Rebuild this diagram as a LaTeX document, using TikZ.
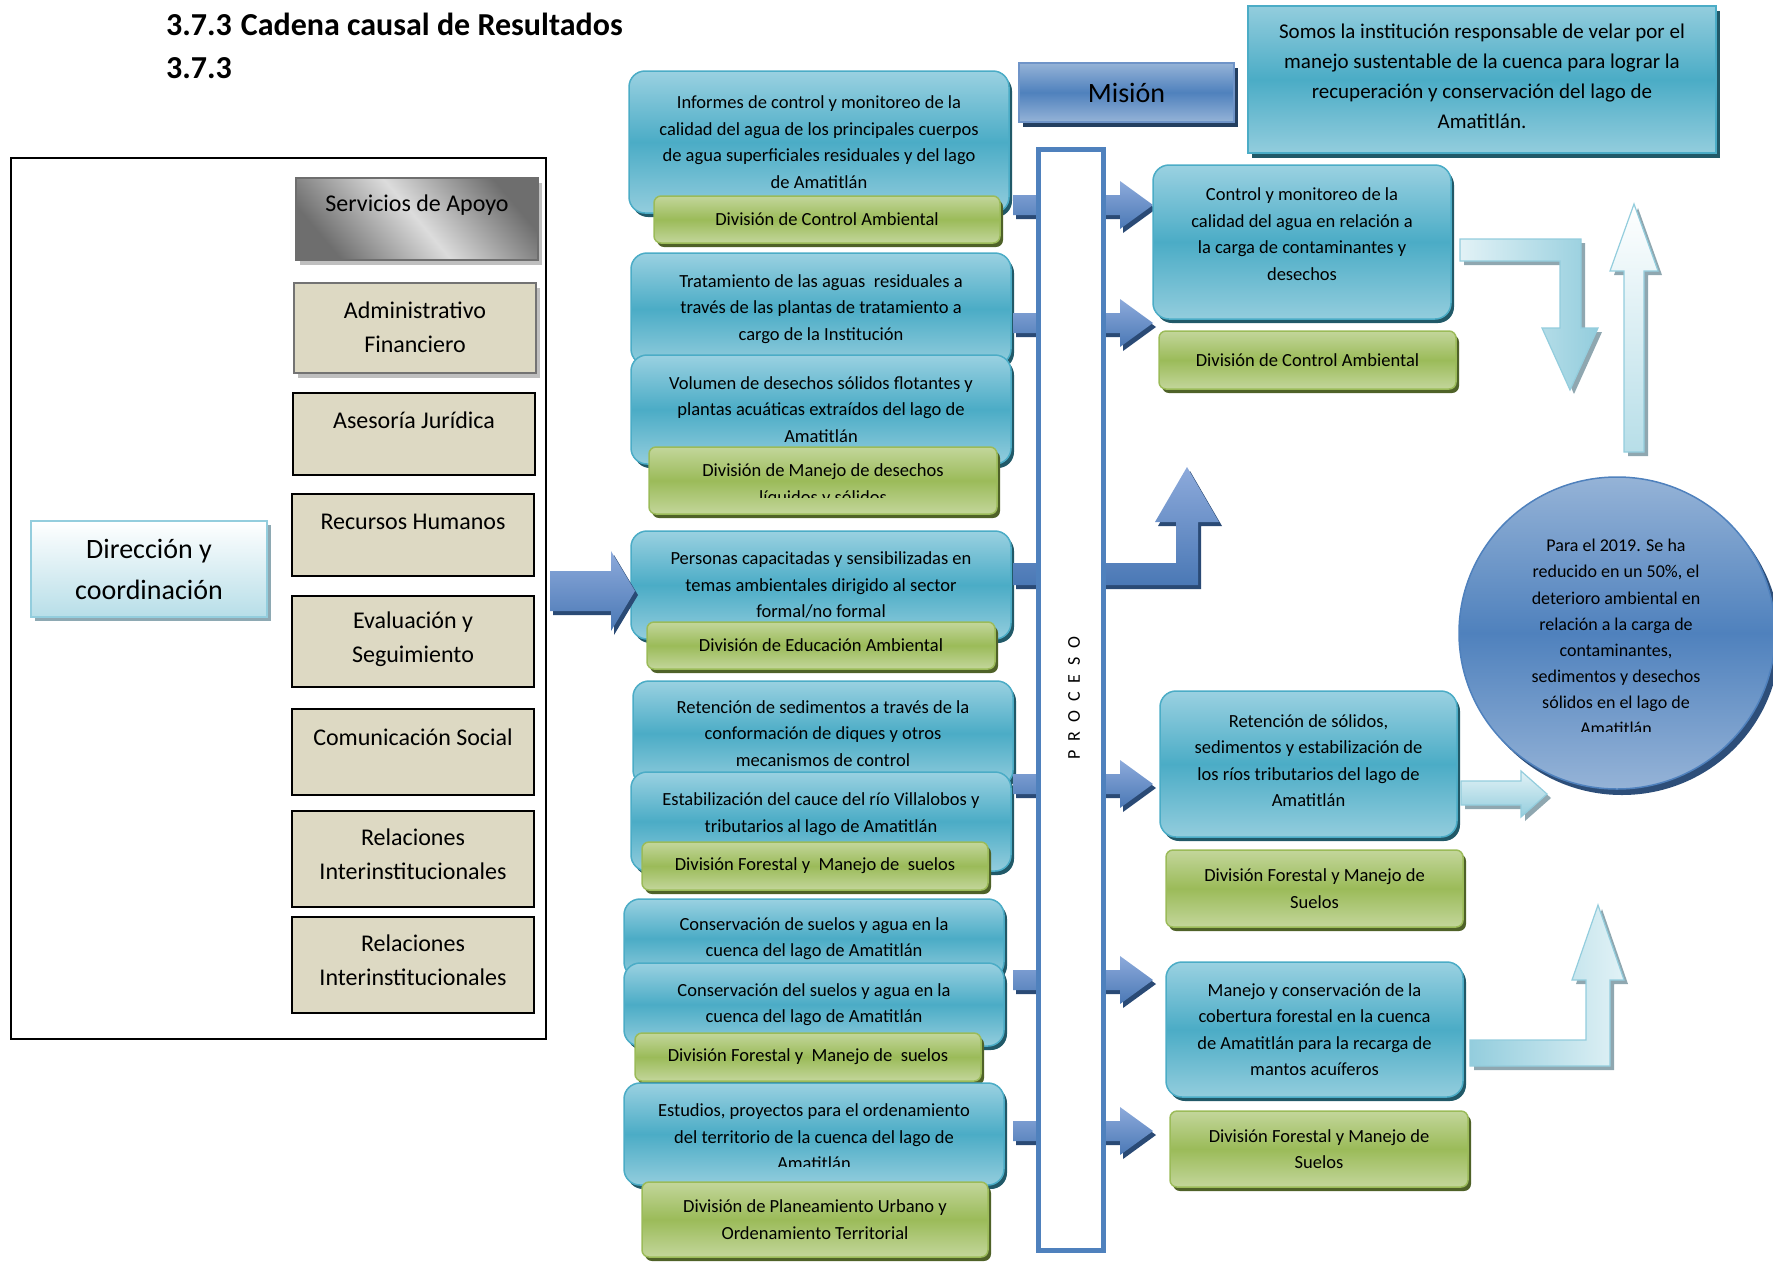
\documentclass[tikz,border=0pt]{standalone}
\usepackage{fontspec}
\setmainfont{Carlito}
\usetikzlibrary{shadows,shapes.geometric}
\definecolor{bltop}{HTML}{9AD1E1}
\definecolor{blbot}{HTML}{93CDDD}
\definecolor{blmid}{HTML}{4BACC6}
\definecolor{blline}{HTML}{4BACC6}
\definecolor{blshadow}{HTML}{215968}
\definecolor{grtop}{HTML}{C3D69B}
\definecolor{grmid}{HTML}{9BBB59}
\definecolor{grline}{HTML}{9BBB59}
\definecolor{grshadow}{HTML}{4F6228}
\definecolor{beige}{HTML}{DDD9C3}
\definecolor{mistop}{HTML}{95B3D7}
\definecolor{mismid}{HTML}{4F81BD}
\definecolor{misline}{HTML}{6F94C8}
\definecolor{misshadow}{HTML}{243F60}
\definecolor{procblue}{HTML}{4F81BD}
\definecolor{batop}{HTML}{8DAADB}
\definecolor{babot}{HTML}{4A78B5}
\definecolor{bashadow}{HTML}{2A4A75}
\definecolor{lalight}{HTML}{E2F2F6}
\definecolor{ladark}{HTML}{93CDDD}
\definecolor{laline}{HTML}{93CDDD}
\definecolor{lashadow}{HTML}{8FA7B0}
\definecolor{goalshadow}{HTML}{2D4E79}
\definecolor{dirbot}{HTML}{B7DEE8}
\definecolor{dirshadow}{HTML}{8EA9B3}
\definecolor{sgdark}{HTML}{6E6E6E}
\definecolor{sglight}{HTML}{DCDCDC}
\newcommand{\btxt}{\fontsize{18.5}{26.5}\selectfont}
\newcommand{\ltxt}{\fontsize{24}{34}\selectfont}
\newcommand{\mtxt}{\fontsize{21}{30}\selectfont}
\newcommand{\ctxt}{\fontsize{18}{26.1}\selectfont}
\newcommand{\dtxt}{\fontsize{28}{41}\selectfont}
\newcommand{\procarrow}[1]{\path[barrow, shift={(0,#1)}] (1013,-10) -- (1120,-10) -- (1120,-24) -- (1153,0) -- (1120,24) -- (1120,10) -- (1013,10) -- cycle;}
\begin{document}
\begin{tikzpicture}[x=1pt,y=-1pt,
  bluebox/.style={draw=blline, line width=1.5pt, rounded corners=16pt, top color=bltop, bottom color=blbot, middle color=blmid, drop shadow={shadow xshift=3pt, shadow yshift=-4pt, fill=blshadow, opacity=1}, inner sep=0pt, align=center, font=\btxt},
  greenbox/.style={draw=grline, line width=1.5pt, rounded corners=7pt, top color=grtop, bottom color=grtop, middle color=grmid, drop shadow={shadow xshift=3pt, shadow yshift=-4pt, fill=grshadow, opacity=1}, inner sep=0pt, align=center, font=\btxt},
  lbox/.style={draw=black, line width=1.8pt, fill=beige, inner sep=0pt, minimum width=242pt},
  lbl/.style={inner sep=0pt, align=center},
  barrow/.style={top color=batop, bottom color=babot, draw=none, drop shadow={shadow xshift=3pt, shadow yshift=-4pt, fill=bashadow, opacity=1}},
  larrow/.style={draw=laline, line width=1.2pt, drop shadow={shadow xshift=4pt, shadow yshift=-4pt, fill=lashadow, opacity=1}}
]
\useasboundingbox (0,0) rectangle (1773,1262);

% title
\node[anchor=west, inner sep=0pt, font=\fontsize{32}{34}\selectfont\bfseries] (title) at (166,24) {3.7.3\hspace{9pt}Cadena causal de Resultados};
\node[anchor=west, inner sep=0pt, font=\fontsize{32}{34}\selectfont\bfseries] (title2) at (166,68) {3.7.3};

% left panel
\node[draw=black, line width=1.5pt, minimum width=535pt, minimum height=881pt, inner sep=0pt] (outer) at (278.5,598.5) {};
\node[draw=sgdark, line width=1.8pt, top color=sgdark, bottom color=sgdark, middle color=sglight, shading angle=-50, minimum width=242pt, minimum height=82pt, inner sep=0pt, drop shadow={shadow xshift=4pt, shadow yshift=-5pt, fill=black!25, opacity=1}] (sa) at (417,219) {};
\node[lbl, font=\ltxt] (sat) at (417,205) {Servicios de Apoyo};
\node[lbox, draw=black!55, minimum height=90pt, drop shadow={shadow xshift=4pt, shadow yshift=-5pt, fill=black!25, opacity=1}] (af) at (415,328) {};
\node[lbl, font=\ltxt] (aft) at (415,327) {Administrativo\\Financiero};
\node[lbox, minimum height=82pt] (aj) at (414,434) {};
\node[lbl, font=\ltxt] (ajt) at (414,420) {Asesoría Jurídica};
\node[lbox, minimum height=82pt] (rh) at (413,535) {};
\node[lbl, font=\ltxt] (rht) at (413,522) {Recursos Humanos};
\node[lbox, minimum height=91pt] (es) at (413,641.5) {};
\node[lbl, font=\ltxt] (est) at (413,639) {Evaluación y\\Seguimiento};
\node[lbox, minimum height=86pt] (cs) at (413,752) {};
\node[lbl, font=\ltxt] (cst) at (413,737) {Comunicación Social};
\node[lbox, minimum height=96pt] (ri1) at (413,859) {};
\node[lbl, font=\ltxt] (ri1t) at (413,854) {Relaciones\\Interinstitucionales};
\node[lbox, minimum height=96pt] (ri2) at (413,965) {};
\node[lbl, font=\ltxt] (ri2t) at (413,960) {Relaciones\\Interinstitucionales};
\node[draw=laline, line width=2pt, top color=white, bottom color=dirbot, minimum width=236pt, minimum height=96pt, inner sep=0pt, align=center, font=\dtxt, drop shadow={shadow xshift=4pt, shadow yshift=-4pt, fill=dirshadow, opacity=1}] (dir) at (149,569) {Dirección y\\coordinación};

% middle column
\node[bluebox, minimum width=380pt, minimum height=142pt] (b1) at (819,142) {Informes de control y monitoreo de la\\calidad del agua de los principales cuerpos\\de agua superficiales residuales y del lago\\de Amatitlán};
\node[greenbox, minimum width=346pt, minimum height=47pt] (g1) at (827,219.5) {División de Control Ambiental};
\node[bluebox, minimum width=380pt, minimum height=112pt] (b2) at (821,309) {Tratamiento de las aguas\ \ residuales a\\través de las plantas de tratamiento a\\cargo de la Institución};
\node[bluebox, minimum width=380pt, minimum height=109pt] (b3) at (821,409.5) {Volumen de desechos sólidos flotantes y\\plantas acuáticas extraídos del lago de\\Amatitlán};
\node[greenbox, minimum width=348pt, minimum height=67pt] (g3) at (823,480.5) {};
\begin{scope}
\clip (649,447) rectangle (997,497);
\node[lbl, font=\btxt] (g3t) at (823,485) {División de Manejo de desechos\\líquidos y sólidos};
\end{scope}
\node[bluebox, minimum width=380pt, minimum height=108pt] (b4) at (821,585) {Personas capacitadas y sensibilizadas en\\temas ambientales dirigido al sector\\formal/no formal};
\node[greenbox, minimum width=348pt, minimum height=47pt] (g4) at (821,645.5) {División de Educación Ambiental};
\node[bluebox, minimum width=380pt, minimum height=105pt] (b5) at (823,733.5) {Retención de sedimentos a través de la\\conformación de diques y otros\\mecanismos de control};
\node[bluebox, minimum width=380pt, minimum height=99pt] (b6) at (821,821.5) {};
\node[lbl, font=\btxt] (b6t) at (821,814) {Estabilización del cauce del río Villalobos y\\tributarios al lago de Amatitlán};
\node[greenbox, minimum width=346pt, minimum height=48pt] (g6) at (815,866) {División Forestal y\ \ Manejo de\ \ suelos};
\node[bluebox, minimum width=380pt, minimum height=79pt] (b7) at (814,938.5) {Conservación de suelos y agua en la\\cuenca del lago de Amatitlán};
\node[bluebox, minimum width=380pt, minimum height=83pt] (b8) at (814,1004.5) {Conservación del suelos y agua en la\\cuenca del lago de Amatitlán};
\node[greenbox, minimum width=346pt, minimum height=48pt] (g8) at (808,1057) {División Forestal y\ \ Manejo de\ \ suelos};
\node[bluebox, minimum width=380pt, minimum height=102pt] (b9) at (814,1134) {};
\begin{scope}
\clip (624,1083) rectangle (1004,1166);
\node[lbl, font=\btxt] (b9t) at (814,1137) {Estudios, proyectos para el ordenamiento\\del territorio de la cuenca del lago de\\Amatitlán};
\end{scope}
\node[greenbox, minimum width=346pt, minimum height=75pt] (g9) at (815,1219.5) {División de Planeamiento Urbano y\\Ordenamiento Territorial};

% big arrow from left panel
\path[barrow] (550,571) -- (611,571) -- (611,551) -- (635,591) -- (611,631) -- (611,611) -- (550,611) -- cycle;

% arrows through PROCESO
\procarrow{205}
\procarrow{323}
\procarrow{784}
\procarrow{980}
\procarrow{1131}
\path[barrow] (1013,563) -- (1176,563) -- (1176,522) -- (1155,522) -- (1187,467) -- (1219,522) -- (1198,522) -- (1198,585) -- (1013,585) -- cycle;

% PROCESO
\node[draw=procblue, line width=5pt, fill=white, minimum width=65pt, minimum height=1101pt, inner sep=0pt] (proc) at (1071,700) {};
\node[rotate=90, inner sep=0pt, font=\fontsize{18}{20}\selectfont] (proct) at (1074,698) {P\hspace{9pt}R\hspace{9pt}O\hspace{9pt}C\hspace{9pt}E\hspace{9pt}S\hspace{9pt}O};

% Mision
\node[draw=misline, line width=1.5pt, top color=mistop, bottom color=mistop, middle color=mismid, minimum width=215pt, minimum height=59pt, inner sep=0pt, font=\fontsize{28}{30}\selectfont, drop shadow={shadow xshift=4pt, shadow yshift=-5pt, fill=misshadow, opacity=1}] (mis) at (1126.5,92.5) {Misión};
\node[draw=blline, line width=1.5pt, top color=blbot, bottom color=blbot, middle color=blmid, minimum width=468pt, minimum height=147pt, inner sep=0pt, drop shadow={shadow xshift=4pt, shadow yshift=-5pt, fill=blshadow, opacity=1}] (mist) at (1482,79.5) {};
\node[lbl, font=\mtxt] (mistt) at (1482,76) {Somos la institución responsable de velar por el\\manejo sustentable de la cuenca para lograr la\\recuperación y conservación del lago de\\Amatitlán.};

% right column
\node[bluebox, minimum width=298pt, minimum height=154pt] (r1) at (1302,242) {};
\node[lbl, font=\btxt] (r1t) at (1302,234) {Control y monitoreo de la\\calidad del agua en relación a\\la carga de contaminantes y\\desechos};
\node[greenbox, minimum width=297pt, minimum height=58pt] (rg1) at (1307.5,360) {División de Control Ambiental};
\node[bluebox, minimum width=297pt, minimum height=146pt] (r2) at (1308.5,764) {};
\node[lbl, font=\btxt] (r2t) at (1308.5,760.5) {Retención de sólidos,\\sedimentos y estabilización de\\los ríos tributarios del lago de\\Amatitlán};
\node[greenbox, minimum width=297pt, minimum height=77pt] (rg2) at (1314.5,888.5) {División Forestal y Manejo de\\Suelos};
\node[bluebox, minimum width=297pt, minimum height=135pt] (r3) at (1314.5,1029.5) {Manejo y conservación de la\\cobertura forestal en la cuenca\\de Amatitlán para la recarga de\\mantos acuíferos};
\node[greenbox, minimum width=298pt, minimum height=76pt] (rg3) at (1319,1149) {División Forestal y Manejo de\\Suelos};

% light arrows
\path[larrow, left color=lalight, right color=ladark] (1460,239) -- (1581,239) -- (1581,328) -- (1598,328) -- (1570,390) -- (1542,328) -- (1560,328) -- (1560,261) -- (1460,261) -- cycle;
\path[larrow, top color=white, bottom color=dirbot] (1624,452) -- (1624,271) -- (1610,271) -- (1634,204) -- (1658,271) -- (1644,271) -- (1644,452) -- cycle;
\path[larrow, left color=ladark, right color=lalight] (1470,1040) -- (1586,1040) -- (1586,980) -- (1572,980) -- (1598,905) -- (1624,980) -- (1610,980) -- (1610,1066) -- (1470,1066) -- cycle;

% goal
\node[ellipse, draw=procblue, line width=1.5pt, top color=mistop, bottom color=mistop, middle color=mismid, minimum width=316pt, minimum height=312pt, inner sep=0pt, drop shadow={shadow xshift=5pt, shadow yshift=-6pt, fill=goalshadow, opacity=1}] (goal) at (1617,633) {};
\begin{scope}
\clip (1459,470) rectangle (1773,731);
\node[lbl, font=\ctxt] (goalt) at (1616,637) {Para el 2019. Se ha\\reducido en un 50\%, el\\deterioro ambiental en\\relación a la carga de\\contaminantes,\\sedimentos y desechos\\sólidos en el lago de\\Amatitlán};
\end{scope}
\path[larrow, top color=lalight, bottom color=ladark] (1461,781) -- (1521,781) -- (1521,771) -- (1547,794) -- (1521,817) -- (1521,805) -- (1461,805) -- cycle;
\end{tikzpicture}
\end{document}
